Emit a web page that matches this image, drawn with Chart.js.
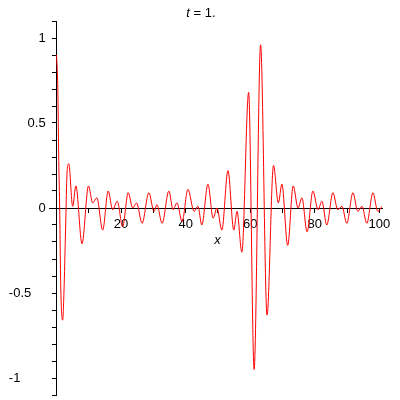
<!DOCTYPE html>
<html>
<head>
<meta charset="utf-8">
<script src="https://cdn.jsdelivr.net/npm/chart.js@4.4.1/dist/chart.umd.min.js"></script>
<style>
  html, body { margin: 0; padding: 0; background: #fff; }
</style>
</head>
<body>
<canvas id="chart" width="400" height="400"></canvas>
<script>
// Curve: extrema of the wave, x then u(x, t=1).
const x_values = [
  0, 0.4, 0.7, 1.0, 1.3, 1.9, 2.3, 2.8, 3.3, 3.8,
  5.0, 6.0, 7.9, 9.9, 11.2, 12.5, 14.3, 16.0, 17.4, 18.8,
  20.5, 22.2, 23.6, 24.8, 26.5, 28.6, 30.2, 31.1, 32.7, 34.8,
  36.1, 37.3, 38.9, 40.7, 42.6, 43.8, 45.0, 46.9, 48.5, 49.7,
  51.2, 53.1, 54.9, 55.9, 57.4, 59.5, 61.2, 63.2, 65.2, 67.2,
  68.7, 69.8, 71.6, 73.3, 74.8, 76.0, 77.6, 79.4, 81.0, 82.2,
  83.7, 85.6, 87.1, 88.4, 89.9, 91.8, 93.3, 94.6, 96.1, 98.0,
  99.5, 100.8
];
const u_values = [
  0.90, 0.71, 0.28, -0.02, -0.45, -0.66, -0.50, -0.13, 0.22, 0.26,
  0.01, 0.13, -0.21, 0.13, 0.03, 0.06, -0.13, 0.10, -0.01, 0.04,
  -0.11, 0.09, 0.00, 0.03, -0.09, 0.09, -0.02, 0.02, -0.09, 0.10,
  -0.01, 0.03, -0.08, 0.11, -0.02, 0.01, -0.10, 0.14, -0.06, 0.00,
  -0.13, 0.22, -0.13, -0.02, -0.26, 0.68, -0.95, 0.96, -0.63, 0.25,
  0.03, 0.14, -0.22, 0.13, 0.00, 0.06, -0.14, 0.10, -0.01, 0.04,
  -0.10, 0.09, -0.01, 0.01, -0.09, 0.09, -0.02, 0.01, -0.09, 0.09,
  -0.02, 0.01
];

const x_ticks = [10, 20, 30, 40, 50, 60, 70, 80, 90, 100];
const x_labels = [20, 40, 60, 80, 100];
const y_ticks = [
  -1.1, -1, -0.9, -0.8, -0.7, -0.6, -0.5, -0.4, -0.3, -0.2, -0.1,
  0, 0.1, 0.2, 0.3, 0.4, 0.5, 0.6, 0.7, 0.8, 0.9, 1, 1.1
];
const y_labels = [-1, -0.5, 0, 0.5, 1];

const FONT = 'Liberation Sans';
const NBSP = '\u00a0';

// Title "t = 1." with an italic t, like the original plot.
const title_plugin = {
  id: 'maple_title',
  afterDraw(chart) {
    const ctx = chart.ctx;
    const italic = `italic 13px "${FONT}"`;
    const plain = `13px "${FONT}"`;
    ctx.save();
    ctx.fillStyle = '#000';
    ctx.textBaseline = 'middle';
    ctx.textAlign = 'left';
    ctx.font = italic;
    const w1 = ctx.measureText('t').width;
    ctx.font = plain;
    const w2 = ctx.measureText(' = 1.').width;
    const left = 201 - (w1 + w2) / 2;
    ctx.font = italic;
    ctx.fillText('t', left, 13);
    ctx.font = plain;
    ctx.fillText(' = 1.', left + w1, 13);
    ctx.restore();
  }
};

// Centered axes: drop the label padding so the plot fills the layout box.
const no_padding = (scale) => {
  scale.paddingTop = 0;
  scale.paddingBottom = 0;
  scale.paddingLeft = 0;
  scale.paddingRight = 0;
};

const axis_common = {
  type: 'linear',
  border: { display: true, color: '#000', width: 1 },
  grid: {
    display: true,
    drawOnChartArea: false,
    drawTicks: true,
    tickLength: 4,
    color: '#000',
  },
  afterFit: no_padding,
};

new Chart(document.getElementById('chart'), {
  type: 'line',
  data: {
    datasets: [{
      data: x_values.map((x, i) => ({ x: x, y: u_values[i] })),
      borderColor: '#ff0000',
      borderWidth: 1,
      pointRadius: 0,
      fill: false,
      cubicInterpolationMode: 'monotone',
    }]
  },
  options: {
    responsive: false,
    animation: false,
    devicePixelRatio: 1,
    layout: { padding: { left: 49.5, right: 18, top: 21, bottom: 5 } },
    plugins: {
      legend: { display: false },
      tooltip: { enabled: false },
    },
    scales: {
      x: {
        ...axis_common,
        position: { y: 0 },
        min: -2.17,
        max: 100.8,
        afterBuildTicks: (scale) => { scale.ticks = x_ticks.map(v => ({ value: v })); },
        ticks: {
          autoSkip: false,
          maxRotation: 0,
          padding: 6,
          color: '#000',
          font: { family: FONT, size: 13, lineHeight: 1 },
          callback: (v) => x_labels.includes(v) ? String(v) : '',
        },
        title: {
          display: true,
          text: NBSP + 'x',
          color: '#000',
          padding: { top: -3, bottom: 0 },
          font: { family: FONT, size: 13, style: 'italic', lineHeight: 1 },
        },
      },
      y: {
        ...axis_common,
        position: { x: 0 },
        min: -1.1,
        max: 1.1,
        afterBuildTicks: (scale) => { scale.ticks = y_ticks.map(v => ({ value: v })); },
        ticks: {
          autoSkip: false,
          color: '#000',
          font: { family: FONT, size: 13 },
          // labels sit flush on the axis line here, so trailing spaces push them left
          callback: (v) => {
            if (!y_labels.includes(v)) return '';
            const pad = v <= -1 ? 10 : (v < 0 ? 7 : 3);
            return String(v) + NBSP.repeat(pad);
          },
        },
      },
    },
  },
  plugins: [title_plugin],
});
</script>
</body>
</html>
